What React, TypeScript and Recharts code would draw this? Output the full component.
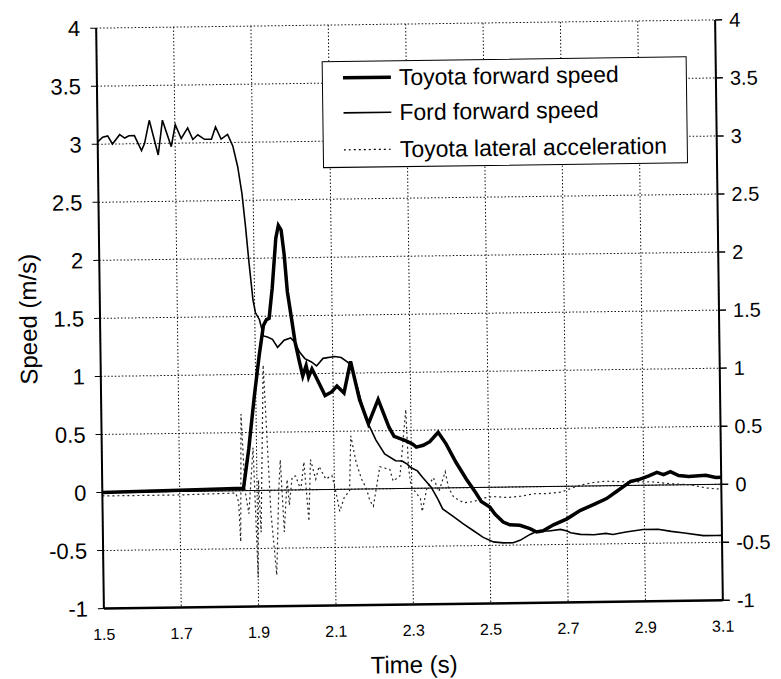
import React from "react";
import {
  LineChart, Line, XAxis, YAxis, CartesianGrid, ReferenceLine, Legend,
} from "recharts";

const FONT = '"Liberation Sans", Arial, Helvetica, sans-serif';

// axis ticks
const timeTicks = [1.5, 1.7, 1.9, 2.1, 2.3, 2.5, 2.7, 2.9, 3.1];
const speedTicks = [-1, -0.5, 0, 0.5, 1, 1.5, 2, 2.5, 3, 3.5, 4];

// Toyota forward speed (m/s)
const toyotaTime = [
  1.5, 1.7, 1.865, 1.88, 1.896, 1.91, 1.922, 1.93, 1.937, 1.946, 1.957, 1.964,
  1.971, 1.978, 1.985, 1.996, 2.003, 2.014, 2.022, 2.031, 2.037, 2.046, 2.054,
  2.066, 2.079, 2.096, 2.11, 2.128, 2.146, 2.168, 2.19, 2.216, 2.243, 2.256,
  2.287, 2.304, 2.313, 2.331, 2.348, 2.37, 2.39, 2.415, 2.441, 2.466, 2.479,
  2.501, 2.514, 2.535, 2.552, 2.578, 2.604, 2.621, 2.638, 2.665, 2.7, 2.734,
  2.769, 2.803, 2.829, 2.866, 2.887, 2.913, 2.934, 2.951, 2.969, 2.99, 3.016,
  3.06, 3.086, 3.1,
];
const toyotaSpeed = [
  0, 0.01, 0.02, 0.36, 0.81, 1.16, 1.42, 1.47, 1.48, 1.74, 2.17, 2.28,
  2.24, 2.03, 1.71, 1.45, 1.28, 1.1, 0.98, 1.07, 0.97, 1.04, 0.985,
  0.9, 0.81, 0.84, 0.89, 0.83, 1.1, 0.77, 0.56, 0.77, 0.53, 0.45,
  0.41, 0.38, 0.355, 0.37, 0.4, 0.48, 0.38, 0.22, 0.075, -0.05, -0.12,
  -0.17, -0.23, -0.3, -0.325, -0.33, -0.36, -0.39, -0.38, -0.33, -0.28, -0.21,
  -0.16, -0.11, -0.05, 0.035, 0.05, 0.08, 0.11, 0.09, 0.115, 0.08, 0.07,
  0.08, 0.06, 0.06,
];

// Ford forward speed (m/s)
const fordTime = [
  1.5, 1.513, 1.526, 1.538, 1.557, 1.57, 1.581, 1.595, 1.613, 1.621, 1.634,
  1.656, 1.668, 1.69, 1.701, 1.716, 1.733, 1.746, 1.759, 1.776, 1.794, 1.805,
  1.819, 1.836, 1.849, 1.861, 1.871, 1.879, 1.887, 1.896, 1.902, 1.912, 1.922,
  1.932, 1.945, 1.958, 1.975, 1.992, 2.002, 2.015, 2.028, 2.045, 2.058, 2.075,
  2.105, 2.122, 2.14, 2.148, 2.165, 2.183, 2.209, 2.231, 2.259, 2.276, 2.289,
  2.298, 2.315, 2.328, 2.35, 2.367, 2.379, 2.405, 2.431, 2.457, 2.483, 2.509,
  2.535, 2.56, 2.578, 2.604, 2.625, 2.653, 2.683, 2.7, 2.709, 2.734, 2.769,
  2.8, 2.818, 2.852, 2.896, 2.935, 2.969, 3.003, 3.052, 3.086, 3.1,
];
const fordSpeed = [
  3.02, 3.06, 3.07, 3.0, 3.08, 3.05, 3.07, 3.07, 2.94, 3.0, 3.2,
  2.9, 3.2, 2.97, 3.16, 3.04, 3.13, 3.03, 3.07, 3.03, 3.03, 3.135,
  3.03, 3.07, 2.97, 2.79, 2.56, 2.28, 1.96, 1.64, 1.53, 1.47, 1.33,
  1.32, 1.3, 1.23, 1.29, 1.31, 1.275, 1.185, 1.13, 1.1, 1.065, 1.13,
  1.145, 1.135, 1.09, 1.06, 0.85, 0.61, 0.42, 0.3, 0.24, 0.237, 0.21,
  0.18, 0.15, 0.095, 0.008, -0.095, -0.18, -0.243, -0.31, -0.37, -0.43, -0.47,
  -0.48, -0.48, -0.46, -0.41, -0.38, -0.383, -0.37, -0.385, -0.4, -0.415, -0.42,
  -0.41, -0.42, -0.4, -0.38, -0.38, -0.4, -0.415, -0.44, -0.44, -0.44,
];

// Toyota lateral acceleration (right axis)
const lateralTime = [
  1.5, 1.7, 1.845, 1.852, 1.856, 1.861, 1.869, 1.878, 1.891, 1.9, 1.904,
  1.909, 1.92, 1.926, 1.935, 1.948, 1.956, 1.961, 1.969, 1.978, 1.983, 1.991,
  2.0, 2.013, 2.022, 2.033, 2.039, 2.052, 2.061, 2.078, 2.094, 2.103, 2.113,
  2.126, 2.139, 2.144, 2.157, 2.17, 2.183, 2.191, 2.2, 2.218, 2.244, 2.252,
  2.27, 2.287, 2.292, 2.298, 2.322, 2.326, 2.339, 2.356, 2.37, 2.387, 2.395,
  2.408, 2.434, 2.46, 2.486, 2.512, 2.547, 2.581, 2.616, 2.65, 2.685, 2.71,
  2.737, 2.77, 2.8, 2.87, 2.92, 2.97, 3.02, 3.06, 3.09, 3.1,
];
const lateralAccel = [
  -0.03, -0.03, -0.02, -0.1, -0.44, 0.66, 0.0, -0.2, 0.37, -0.75, 0.09,
  -0.36, 1.08, 0.57, -0.19, -0.73, 0.0, 0.26, -0.36, 0.09, -0.13, 0.11,
  0.12, 0.0, 0.24, -0.27, 0.26, 0.09, 0.2, 0.09, 0.12, -0.01, -0.19,
  -0.06, -0.02, 0.46, 0.23, 0.09, 0.0, -0.1, -0.15, 0.19, 0.165, 0.065,
  0.11, 0.68, 0.19, 0.02, -0.09, -0.2, 0.0, 0.09, -0.03, 0.14, 0.0,
  -0.08, -0.13, -0.12, -0.09, -0.08, -0.09, -0.08, -0.06, -0.06, -0.05, -0.02,
  0.01, 0.03, 0.04, 0.03, 0.03, 0.01, 0.0, -0.03, -0.04, -0.03,
];

const seriesNames = ["Toyota forward speed", "Ford forward speed", "Toyota lateral acceleration"];

const zip = (ts: number[], vs: number[]) => ts.map((t, i) => ({ t, v: vs[i] }));
const toyotaData = zip(toyotaTime, toyotaSpeed);
const fordData = zip(fordTime, fordSpeed);
const lateralData = zip(lateralTime, lateralAccel);

const lineStyles: Record<string, { w: number; dash?: string }> = {
  [seriesNames[0]]: { w: 3.5 },
  [seriesNames[1]]: { w: 1.6 },
  [seriesNames[2]]: { w: 1.2, dash: "2 3" },
};

function LegendBox() {
  const rowCenters = [16, 51, 88];
  return (
    <div
      style={{
        width: 365, height: 107, boxSizing: "border-box",
        border: "1.5px solid #000", background: "#fff", position: "relative",
      }}
    >
      {seriesNames.map((name, i) => (
        <div
          key={name}
          style={{
            position: "absolute", left: 20, top: rowCenters[i] - 14, height: 28,
            display: "flex", alignItems: "center", whiteSpace: "nowrap",
          }}
        >
          <svg width={50} height={10} style={{ marginRight: 6 }}>
            <line
              x1={0} y1={5} x2={48} y2={5} stroke="#000"
              strokeWidth={lineStyles[name].w}
              strokeDasharray={lineStyles[name].dash}
            />
          </svg>
          <span style={{ fontSize: 23, color: "#000", fontFamily: FONT }}>{name}</span>
        </div>
      ))}
    </div>
  );
}

export default function App() {
  const fmt = (v: number) => String(v);
  return (
    <div
      style={{
        width: 765, height: 672, fontFamily: FONT, background: "#fff",
        transform: "rotate(-0.76deg)", transformOrigin: "401.5px 306px",
      }}
    >
      <LineChart
        width={765}
        height={672}
        margin={{ top: 16, right: 4, bottom: 0.5, left: 12 }}
      >
        {/* dotted grid like the scanned original */}
        <CartesianGrid stroke="#111" strokeDasharray="1.5 2" />
        <XAxis
          dataKey="t" type="number" domain={[1.5, 3.1]} ticks={timeTicks}
          allowDataOverflow height={75} tickSize={0} tickMargin={20}
          tickFormatter={fmt}
          tick={{ fontSize: 16, fill: "#000" }}
          axisLine={{ stroke: "#000", strokeWidth: 2.5 }}
          label={{ value: "Time (s)", position: "insideBottom", offset: 6.5, fontSize: 24, fill: "#000" }}
        />
        <XAxis
          xAxisId="top" orientation="top" type="number" domain={[1.5, 3.1]}
          height={0} tick={false} tickLine={false}
          axisLine={{ stroke: "#000", strokeWidth: 2 }}
        />
        <YAxis
          type="number" domain={[-1, 4]} ticks={speedTicks} allowDataOverflow
          width={80} tickSize={6} tickMargin={10} tickFormatter={fmt}
          tick={{ fontSize: 22, fill: "#000" }}
          tickLine={{ stroke: "#000" }}
          axisLine={{ stroke: "#000", strokeWidth: 2 }}
          label={{
            value: "Speed (m/s)", angle: -90, position: "insideLeft", offset: 8,
            fontSize: 24, fill: "#000", style: { textAnchor: "middle" },
          }}
        />
        <YAxis
          yAxisId="right" orientation="right" type="number" domain={[-1, 4]}
          ticks={speedTicks} allowDataOverflow width={50} tickSize={7} tickMargin={7}
          tickFormatter={fmt}
          tick={{ fontSize: 20, fill: "#000" }}
          tickLine={{ stroke: "#000", strokeWidth: 1.5 }}
          axisLine={{ stroke: "#000", strokeWidth: 2 }}
        />
        {/* inward half of the crossing ticks on the right axis */}
        <YAxis
          yAxisId="rightIn" orientation="right" mirror type="number" domain={[-1, 4]}
          ticks={speedTicks} width={10} tickSize={7} axisLine={false}
          tick={() => <g />}
          tickLine={{ stroke: "#000", strokeWidth: 1.5 }}
        />
        <ReferenceLine y={0} stroke="#000" strokeWidth={1} />
        <Legend
          layout="vertical" align="center" verticalAlign="middle"
          wrapperStyle={{ left: 317, top: 52, width: 365, height: 107 }}
          content={() => <LegendBox />}
        />
        <Line
          data={lateralData} dataKey="v" yAxisId="right" name={seriesNames[2]}
          type="linear" stroke="#222" strokeWidth={1.2} strokeDasharray="2 3"
          dot={false} isAnimationActive={false}
        />
        <Line
          data={fordData} dataKey="v" name={seriesNames[1]}
          type="linear" stroke="#000" strokeWidth={1.6}
          dot={false} isAnimationActive={false}
        />
        <Line
          data={toyotaData} dataKey="v" name={seriesNames[0]}
          type="linear" stroke="#000" strokeWidth={3.5}
          dot={false} isAnimationActive={false}
        />
      </LineChart>
    </div>
  );
}
